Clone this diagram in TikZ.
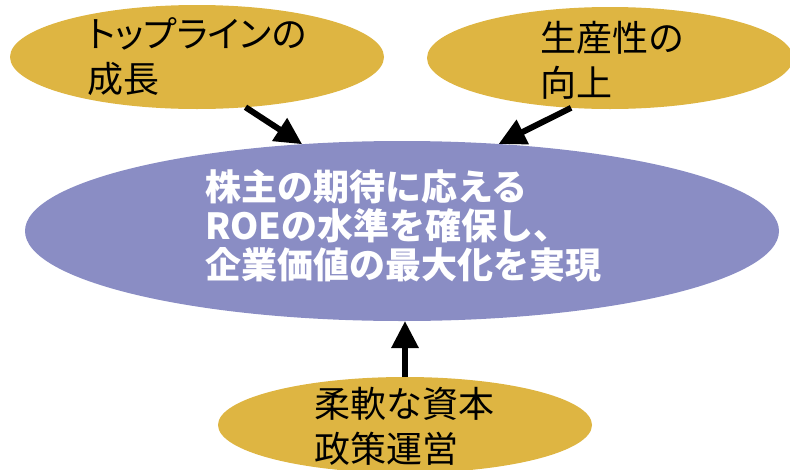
\documentclass[tikz,border=0pt]{standalone}
\usepackage{fontspec}
\setmainfont{Noto Sans CJK JP}
\usetikzlibrary{shapes.geometric,arrows.meta}
\definecolor{gold}{RGB}{222,181,66}
\definecolor{lilac}{RGB}{138,141,196}
\tikzset{
  goal/.style={ellipse, fill=gold, inner sep=0pt, outer sep=0pt},
  goaltext/.style={align=left, inner sep=0pt, font=\fontsize{36pt}{45pt}\selectfont},
  push/.style={line width=6pt, -{Triangle[length=27pt,width=26pt]}}
}

\begin{document}
\begin{tikzpicture}[x=1pt, y=-1pt]
\useasboundingbox (0,0) rectangle (790,469);

\node[goal, minimum width=374pt, minimum height=104pt] (line) at (197,57) {};
\node[goal, minimum width=366pt, minimum height=102pt] (prod) at (610,58) {};
\node[ellipse, fill=lilac, inner sep=0pt, outer sep=0pt,
      minimum width=754pt, minimum height=180pt] (roe) at (402,231) {};
\node[goal, minimum width=374pt, minimum height=96pt] (cap) at (405,425) {};

\node[goaltext, font=\fontsize{36pt}{45pt}\selectfont\addfontfeature{RawFeature=+palt}] (linetxt) at (line) {トップラインの\\成長};
\node[goaltext] (prodtxt) at (612,60) {生産性の\\向上};
\node[goaltext] (captxt) at (404,426) {柔軟な資本\\政策運営};
\node[align=left, inner sep=0pt, text=white,
      font=\fontsize{36pt}{39pt}\selectfont\bfseries] (roetxt) at (403,226)
  {株主の期待に応える\\ROEの水準を確保し、\\企業価値の最大化を実現};

\draw[push] (line.-46) -- (roe.139);
\draw[push] (prod.-128) -- (roe.42);
\draw[push] (cap.north) -- (cap.north |- roe.south);
\end{tikzpicture}
\end{document}
